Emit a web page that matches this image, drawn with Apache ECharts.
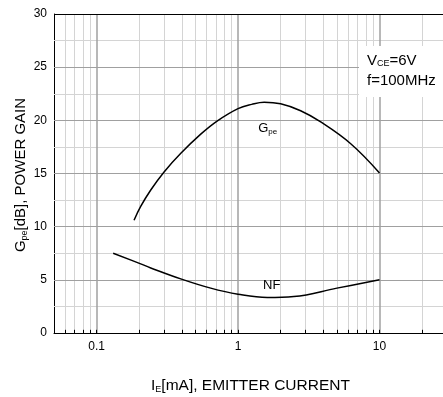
<!DOCTYPE html>
<html><head><meta charset="utf-8">
<script src="https://cdn.jsdelivr.net/npm/echarts@6/dist/echarts.min.js"></script>
<style>html,body{margin:0;padding:0;background:#fff}#c{width:443px;height:397px}</style>
</head><body><div id="c"></div>
<script>
// Data
var gpeX = [0.184, 0.205, 0.2415, 0.300, 0.394, 0.545, 0.715, 1.0, 1.25, 1.53, 2.0, 2.77, 3.84, 6.26, 10];
var gpeY = [10.6, 11.9, 13.45, 15.15, 16.9, 18.7, 19.95, 21.1, 21.5, 21.7, 21.55, 20.9, 19.85, 17.8, 15.05];
var nfX = [0.131, 0.205, 0.2415, 0.394, 0.641, 1.0, 1.61, 2.48, 5.0, 10];
var nfY = [7.5, 6.5, 6.12, 5.09, 4.22, 3.65, 3.34, 3.43, 4.22, 5.0];
var xTickLabels = [0.1, 1, 10];
var xMajorGrid = [0.1, 1, 10];
var xMinorGrid = [0.06, 0.07, 0.08, 0.09, 0.2, 0.3, 0.4, 0.5, 0.6, 0.7, 0.8, 0.9, 2, 3, 4, 5, 6, 7, 8, 9, 20];
var yMajorGrid = [5, 10, 15, 20, 25];
var yMinorGrid = [2.5, 7.5, 12.5, 17.5, 22.5, 27.5];
var xMin = 0.05, xMax = 30, yMin = 0, yMax = 30;

function zip(a, b) { return a.map(function (v, i) { return [v, b[i]]; }); }

var chart = echarts.init(document.getElementById('c'), null, {renderer: 'canvas'});
var font = '"Liberation Sans", Arial, sans-serif';

var gridLines = [];
xMinorGrid.forEach(function (v) { gridLines.push({xAxis: v, lineStyle: {color: '#d4d4d4'}}); });
yMinorGrid.forEach(function (v) { gridLines.push({yAxis: v, lineStyle: {color: '#d4d4d4'}}); });
var majorLines = [];
xMajorGrid.forEach(function (v) { majorLines.push({xAxis: v, lineStyle: {color: '#a0a0a0', width: 1.5}}); });
yMajorGrid.forEach(function (v) { majorLines.push({yAxis: v, lineStyle: {color: '#a0a0a0'}}); });
var borderLines = [{yAxis: yMax, lineStyle: {color: '#000', width: 1}}];
var ticks = [];
xMinorGrid.concat(xMajorGrid).forEach(function (v) {
  ticks.push([{coord: [v, 0]}, {coord: [v, 0.3]}]);
});

var subRich = function (size, pad) {
  return {n: {fontSize: size, fontFamily: font, color: '#000'},
          s: {fontSize: Math.round(size * 0.6), fontFamily: font, color: '#000', padding: [pad, 0, 0, 0]}};
};
var subRichG = function (size, pad) {
  return {n: {fontSize: size, fontFamily: font, fill: '#000'},
          s: {fontSize: Math.round(size * 0.6), fontFamily: font, fill: '#000', padding: [pad, 0, 0, 0]}};
};

chart.setOption({
  animation: false,
  grid: {left: 54, top: 14, width: 393, height: 319, show: false, outerBoundsMode: 'none', containLabel: false},
  xAxis: {
    type: 'log', logBase: 10, min: xMin, max: xMax,
    name: '{n|I}{s|E}{n|[mA], EMITTER CURRENT}', nameLocation: 'middle', nameGap: 45,
    nameTextStyle: {rich: subRich(15.5, 7)},
    axisLine: {show: true, lineStyle: {color: '#000', width: 1}},
    axisTick: {show: false},
    splitLine: {show: false},
    axisLabel: {
      showMinLabel: false, showMaxLabel: false, margin: 8,
      fontSize: 12, fontFamily: font, color: '#000',
      formatter: function (v) {
        for (var i = 0; i < xTickLabels.length; i++) {
          if (Math.abs(v - xTickLabels[i]) / xTickLabels[i] < 1e-6) return String(xTickLabels[i]);
        }
        return '';
      }
    }
  },
  yAxis: {
    type: 'value', min: yMin, max: yMax, interval: 5,
    axisLine: {show: true, lineStyle: {color: '#000', width: 1}},
    axisTick: {show: false},
    splitLine: {show: false},
    axisLabel: {fontSize: 12, fontFamily: font, color: '#000', margin: 7}
  },
  graphic: [
    {type: 'text', z: 100, rotation: Math.PI / 2, x: 21, y: 175,
     style: {text: '{n|G}{s|pe}{n|[dB], POWER GAIN}', textAlign: 'center', textVerticalAlign: 'middle',
       rich: subRichG(15, 7)}},
    {type: 'rect', z: 100, shape: {x: 359, y: 46, width: 90, height: 51}, style: {fill: '#fff'}},
    {type: 'text', z: 101, x: 367, y: 61,
     style: {text: '{n|V}{s|CE}{n|=6V}', textVerticalAlign: 'middle', rich: subRichG(15, 6)}},
    {type: 'text', z: 101, x: 367, y: 81,
     style: {text: 'f=100MHz', textVerticalAlign: 'middle', fontSize: 15, fontFamily: font, fill: '#000'}}
  ],
  series: [
    {type: 'line', data: [], silent: true,
     markLine: {silent: true, symbol: 'none', label: {show: false}, z: 1, lineStyle: {type: 'solid', width: 1}, data: gridLines}},
    {type: 'line', data: [], silent: true,
     markLine: {silent: true, symbol: 'none', label: {show: false}, z: 2, lineStyle: {type: 'solid', width: 1}, data: majorLines}},
    {type: 'line', data: [], silent: true,
     markLine: {silent: true, symbol: 'none', label: {show: false}, z: 3, lineStyle: {type: 'solid', width: 1, color: '#000'}, data: ticks.concat(borderLines)}},
    {type: 'line', name: 'Gpe', data: zip(gpeX, gpeY), smooth: 0.4, showSymbol: false, z: 5,
     lineStyle: {color: '#000', width: 1.5},
     markPoint: {symbol: 'circle', symbolSize: 1, itemStyle: {color: 'rgba(0,0,0,0)'},
       data: [{coord: [1.62, 19.2], value: 'Gpe'}],
       label: {show: true, position: 'inside', formatter: '{n|G}{s|pe}', rich: subRich(13, 6)}}},
    {type: 'line', name: 'NF', data: zip(nfX, nfY), smooth: 0.4, showSymbol: false, z: 5,
     lineStyle: {color: '#000', width: 1.5},
     markPoint: {symbol: 'circle', symbolSize: 1, itemStyle: {color: 'rgba(0,0,0,0)'},
       data: [{coord: [1.73, 4.43], value: 'NF'}],
       label: {show: true, position: 'inside', formatter: 'NF', fontSize: 13, fontFamily: font, color: '#000'}}}
  ]
});
</script></body></html>
